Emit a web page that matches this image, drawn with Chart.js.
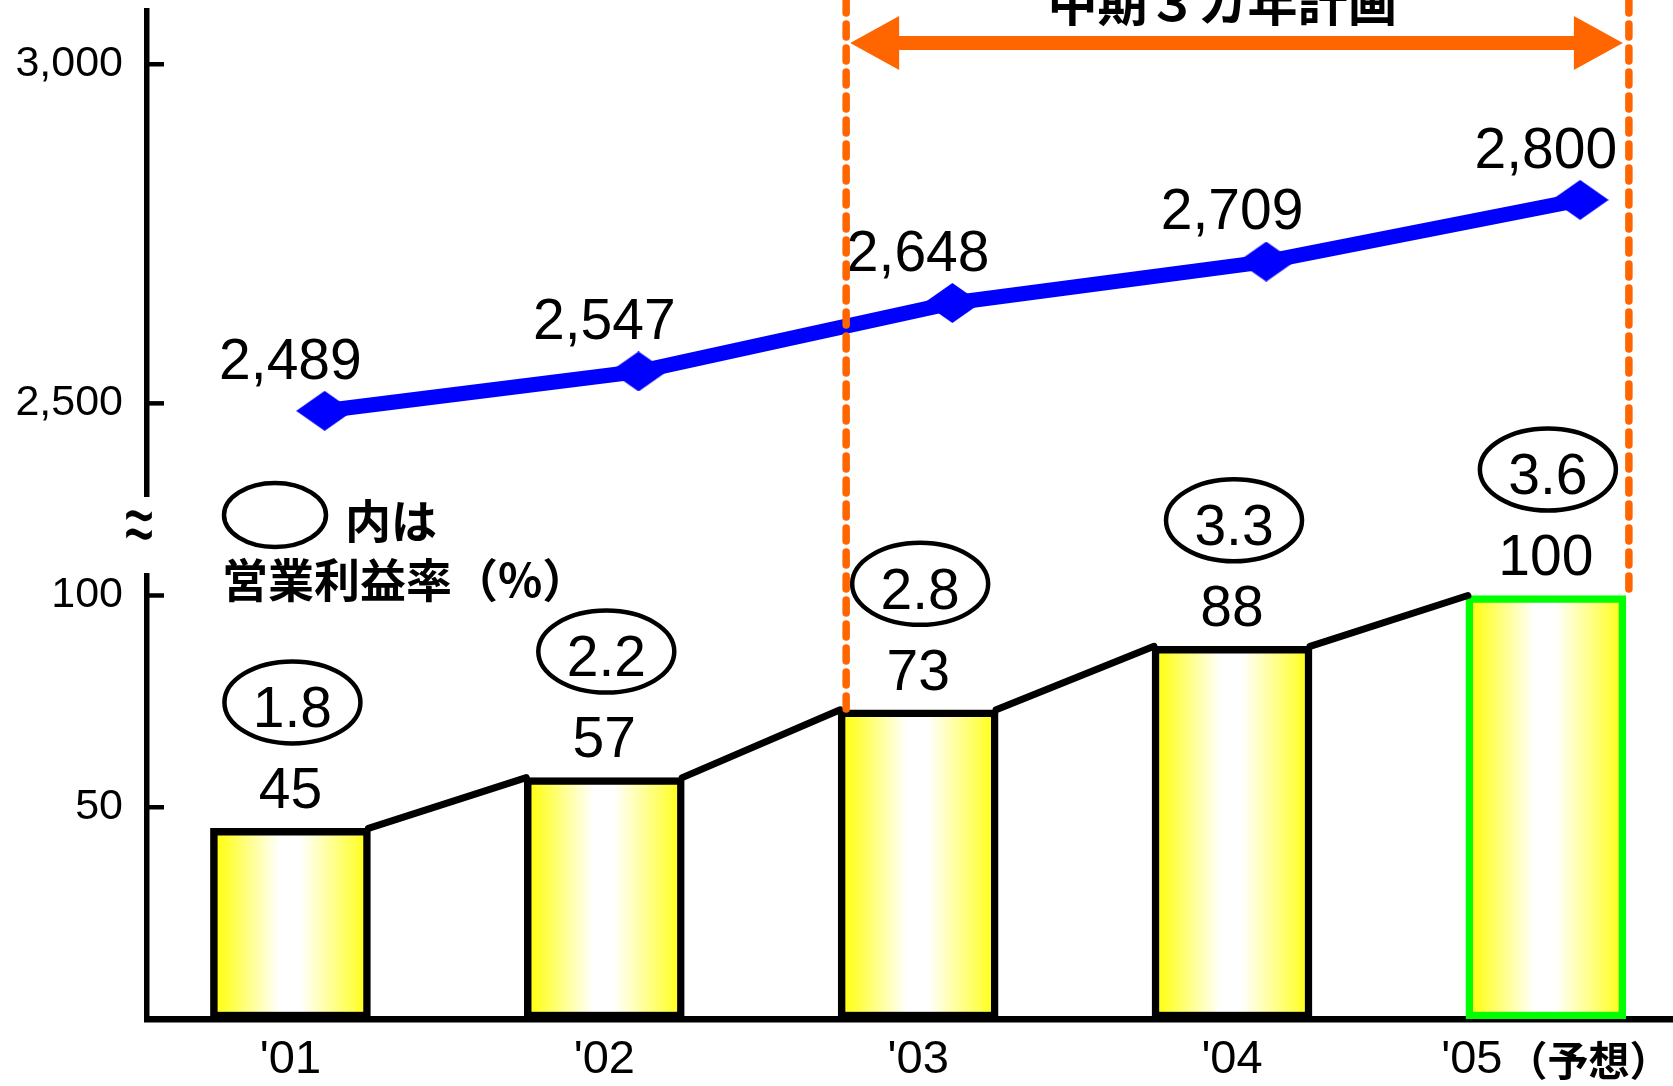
<!DOCTYPE html>
<html>
<head>
<meta charset="utf-8">
<script src="https://cdn.jsdelivr.net/npm/chart.js@4.4.1/dist/chart.umd.min.js"></script>
<style>
  body { margin: 0; background: #fff; }
  #wrap { width: 1673px; height: 1086px; }
</style>
</head>
<body>
<div id="wrap"><canvas id="chartCanvas"></canvas></div>
<script>
// データ
const years = ["'01", "'02", "'03", "'04", "'05"];
const forecastNote = '（予想）';
const sales = [2489, 2547, 2648, 2709, 2800];
const profit = [45, 57, 73, 88, 100];
const margin = [1.8, 2.2, 2.8, 3.3, 3.6];
const topTicks = [2500, 3000];
const bottomTicks = [50, 100];
const planTitle = '中期３カ年計画';
const planFrom = 2;
const planTo = 4;
const legendLine1 = '内は';
const legendLine2 = '営業利益率（%）';
const breakMark = '≈';

const NUM_FONT = '"Liberation Sans", Arial, sans-serif';
const JP_FONT = '"Noto Sans CJK JP", sans-serif';
const ORANGE = '#ff6600';

// ひし形マーカー
const diamond = document.createElement('canvas');
diamond.width = 57;
diamond.height = 40;
const dc = diamond.getContext('2d');
dc.fillStyle = '#0000ff';
dc.beginPath();
dc.moveTo(28.5, 0); dc.lineTo(57, 20); dc.lineTo(28.5, 40); dc.lineTo(0, 20);
dc.closePath();
dc.fill();

const BAR_W = 160;

function barFill(c) {
  const chart = c.chart;
  if (!chart.chartArea || !chart.scales.x) return '#ffff66';
  const cx = chart.scales.x.getPixelForValue(c.dataIndex);
  const g = chart.ctx.createLinearGradient(cx - BAR_W / 2, 0, cx + BAR_W / 2, 0);
  g.addColorStop(0, '#ffff00');
  g.addColorStop(0.1, '#ffff33');
  g.addColorStop(0.43, '#ffffff');
  g.addColorStop(0.56, '#ffffff');
  g.addColorStop(0.9, '#ffff44');
  g.addColorStop(1, '#ffff00');
  return g;
}

function fixWidth(s) {
  s.width = 147;
  s.paddingTop = 0;
  s.paddingBottom = 0;
}

const decor = {
  id: 'decor',
  afterDatasetsDraw(chart) {
    const { ctx, scales } = chart;
    const bars = chart.getDatasetMeta(0).data;
    const pts = chart.getDatasetMeta(1).data;
    ctx.save();

    // 内向きの目盛り
    ctx.strokeStyle = '#000';
    ctx.lineWidth = 4.5;
    [[scales.yTop, topTicks], [scales.yBot, bottomTicks]].forEach(([s, list]) => {
      list.forEach(v => {
        const y = s.getPixelForValue(v);
        ctx.beginPath();
        ctx.moveTo(s.right, y);
        ctx.lineTo(s.right + 17, y);
        ctx.stroke();
      });
    });

    // 棒の上をつなぐ線
    ctx.lineWidth = 7;
    ctx.lineCap = 'round';
    for (let i = 0; i < bars.length - 1; i++) {
      const a = bars[i], b = bars[i + 1];
      ctx.beginPath();
      ctx.moveTo(a.x + a.width / 2 - 2, a.y);
      ctx.lineTo(b.x - b.width / 2 + 2, b.y);
      ctx.stroke();
    }

    // 値ラベルと利益率の楕円
    ctx.fillStyle = '#000';
    ctx.textAlign = 'center';
    ctx.textBaseline = 'middle';
    bars.forEach((bar, i) => {
      ctx.font = '57px ' + NUM_FONT;
      ctx.fillText(String(profit[i]), bar.x, bar.y - 36);
      ctx.lineWidth = 4.5;
      ctx.beginPath();
      ctx.ellipse(bar.x + 2, bar.y - 126, 68, 41, 0, 0, Math.PI * 2);
      ctx.stroke();
      ctx.fillText(margin[i].toFixed(1), bar.x + 2, bar.y - 117);
    });

    // 売上ラベル
    pts.forEach((p, i) => {
      ctx.font = '57px ' + NUM_FONT;
      ctx.fillText(sales[i].toLocaleString('en-US'), scales.x.getPixelForValue(i), p.y - 48);
    });

    // 中期計画の範囲
    const b1 = bars[planFrom], b2 = bars[planTo];
    const xL = b1.x - b1.width / 2 + 8;
    const xR = b2.x + b2.width / 2 + 3;
    ctx.strokeStyle = ORANGE;
    ctx.lineWidth = 7.5;
    ctx.lineCap = 'round';
    ctx.setLineDash([13, 11]);
    ctx.beginPath();
    ctx.moveTo(xL, 0); ctx.lineTo(xL, b1.y);
    ctx.moveTo(xR, 0); ctx.lineTo(xR, b2.y);
    ctx.stroke();
    ctx.setLineDash([]);
    const ay = 43;
    ctx.lineCap = 'butt';
    ctx.lineWidth = 14;
    ctx.beginPath();
    ctx.moveTo(xL + 40, ay); ctx.lineTo(xR - 40, ay);
    ctx.stroke();
    ctx.fillStyle = ORANGE;
    ctx.beginPath();
    ctx.moveTo(xL + 4, ay); ctx.lineTo(xL + 53, ay - 27); ctx.lineTo(xL + 53, ay + 27); ctx.closePath();
    ctx.moveTo(xR - 6, ay); ctx.lineTo(xR - 55, ay - 27); ctx.lineTo(xR - 55, ay + 27); ctx.closePath();
    ctx.fill();
    ctx.fillStyle = '#000';
    ctx.font = 'bold 50px ' + JP_FONT;
    ctx.textBaseline = 'alphabetic';
    ctx.fillText(planTitle, (xL + xR) / 2 - 15, 21);

    // 凡例
    ctx.lineWidth = 4.5;
    ctx.strokeStyle = '#000';
    ctx.beginPath();
    ctx.ellipse(275, 515, 51, 32, 0, 0, Math.PI * 2);
    ctx.stroke();
    ctx.textAlign = 'left';
    ctx.textBaseline = 'middle';
    ctx.font = 'bold 46px ' + JP_FONT;
    ctx.fillText(legendLine1, 345, 521);
    ctx.fillText(legendLine2, 222, 580);

    // 軸の省略記号
    const g = scales.yGap;
    ctx.save();
    ctx.translate(g.right - 8, (g.top + g.bottom) / 2 - 6);
    ctx.scale(1, 1.7);
    ctx.textAlign = 'center';
    ctx.font = '52px ' + NUM_FONT;
    ctx.fillText(breakMark, 0, 0);
    ctx.restore();

    // 年ラベル
    ctx.textBaseline = 'middle';
    years.forEach((label, i) => {
      const x = scales.x.getPixelForValue(i);
      const y = 1060;
      if (i === years.length - 1) {
        ctx.font = '47px ' + NUM_FONT;
        const w1 = ctx.measureText(label).width;
        ctx.font = 'bold 41px ' + JP_FONT;
        const w2 = ctx.measureText(forecastNote).width;
        const start = x - (w1 + w2) / 2 + 8;
        ctx.textAlign = 'left';
        ctx.font = '47px ' + NUM_FONT;
        ctx.fillText(label, start, y);
        ctx.font = 'bold 41px ' + JP_FONT;
        ctx.fillText(forecastNote, start + w1 + 4, y);
      } else {
        ctx.textAlign = 'center';
        ctx.font = '47px ' + NUM_FONT;
        ctx.fillText(label, x, y);
      }
    });
    ctx.restore();
  }
};

new Chart(document.getElementById('chartCanvas'), {
  data: {
    datasets: [
      {
        type: 'bar',
        data: profit.map((v, i) => ({ x: i, y: v })),
        xAxisID: 'x',
        yAxisID: 'yBot',
        grouped: false,
        barThickness: BAR_W,
        maxBarThickness: BAR_W,
        backgroundColor: barFill,
        borderColor: profit.map((v, i) => i === profit.length - 1 ? '#00ff00' : '#000000'),
        borderWidth: 7.5,
        borderSkipped: false
      },
      {
        type: 'line',
        data: sales.map((v, i) => ({ x: i, y: v })),
        xAxisID: 'x2',
        yAxisID: 'yTop',
        borderColor: '#0000ff',
        borderWidth: 15,
        tension: 0,
        pointStyle: diamond,
        pointRadius: 20,
        fill: false,
        clip: false
      }
    ]
  },
  options: {
    responsive: true,
    maintainAspectRatio: false,
    animation: false,
    layout: { autoPadding: false, padding: { top: 11, left: 0, right: 0, bottom: 67 } },
    plugins: { legend: { display: false }, tooltip: { enabled: false } },
    scales: {
      x: {
        type: 'linear',
        offset: false,
        min: -0.457,
        max: 4.405,
        grid: { display: false, drawTicks: false, offset: false },
        ticks: { display: false },
        border: { display: true, color: '#000', width: 6.5 }
      },
      x2: {
        type: 'linear',
        display: false,
        offset: false,
        min: -0.566,
        max: 4.296
      },
      yBot: {
        type: 'linear',
        position: 'left',
        stack: 'left',
        stackWeight: 443,
        min: 0,
        max: 104.6,
        afterBuildTicks: s => { s.ticks = bottomTicks.map(v => ({ value: v })); },
        afterFit: fixWidth,
        grid: { display: false, drawTicks: false },
        border: { display: true, color: '#000', width: 5.5 },
        ticks: { color: '#000', padding: 24, font: { size: 43, family: NUM_FONT } }
      },
      yGap: {
        type: 'linear',
        position: 'left',
        stack: 'left',
        stackWeight: 80,
        afterFit: fixWidth,
        grid: { display: false, drawTicks: false },
        border: { display: false },
        ticks: { display: false }
      },
      yTop: {
        type: 'linear',
        position: 'left',
        stack: 'left',
        stackWeight: 485,
        min: 2363.4,
        max: 3078.5,
        afterBuildTicks: s => { s.ticks = topTicks.map(v => ({ value: v })); },
        afterFit: fixWidth,
        grid: { display: false, drawTicks: false },
        border: { display: true, color: '#000', width: 5.5 },
        ticks: {
          color: '#000', padding: 24, font: { size: 43, family: NUM_FONT },
          callback: v => v.toLocaleString('en-US')
        }
      }
    }
  },
  plugins: [decor]
});
</script>
</body>
</html>
